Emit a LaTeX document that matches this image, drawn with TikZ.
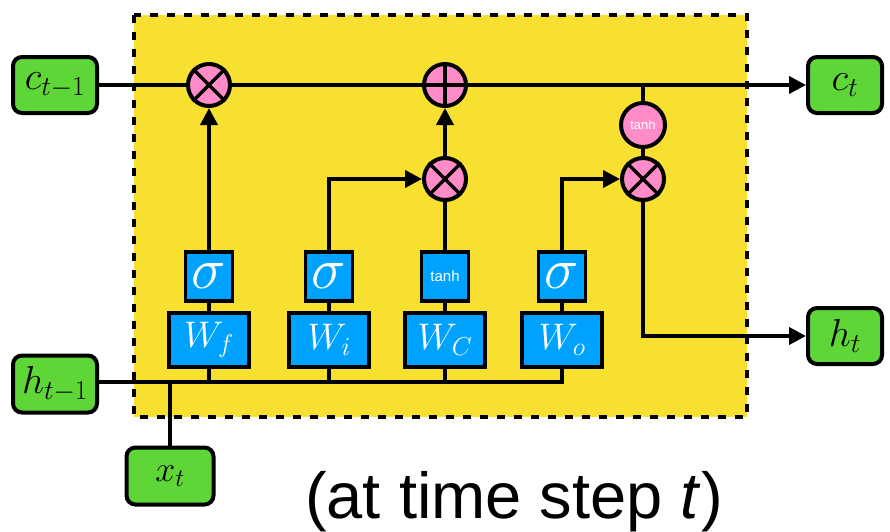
\RequirePackage{fix-cm}
\documentclass[tikz,border=0pt]{standalone}
\usepackage{fontspec}
\setsansfont{Liberation Sans}
\usetikzlibrary{arrows.meta}
\definecolor{cellyellow}{RGB}{248,224,48}
\definecolor{iogreen}{RGB}{94,214,56}
\definecolor{gateblue}{RGB}{0,162,255}
\definecolor{oppink}{RGB}{255,140,200}
\tikzset{
  iobox/.style={draw=black, line width=4pt, fill=iogreen, rounded corners=9pt, inner sep=0pt,
    font=\fontsize{39}{40}\selectfont},
  actbox/.style={draw=black, line width=3.5pt, fill=gateblue, inner sep=0pt,
    minimum width=47pt, minimum height=49pt, text=white},
  wbox/.style={draw=black, line width=3.5pt, fill=gateblue, inner sep=0pt,
    minimum width=80pt, minimum height=54pt, text=white, font=\fontsize{37}{38}\selectfont},
  opcirc/.style={circle, draw=black, line width=4pt, fill=oppink, inner sep=0pt, minimum size=42pt},
  wire/.style={line width=3.8pt, draw=black},
  arrowwire/.style={wire, -{Triangle[length=17pt,width=17pt]}},
  sigfont/.style={font=\fontsize{58}{58}\selectfont},
}
\begin{document}
\begin{tikzpicture}[x=1pt, y=-1pt]
\useasboundingbox (0,0) rectangle (890,531);
% cell background
\draw[fill=cellyellow, line width=4pt, dash pattern=on 8pt off 9pt] (134,15) rectangle (747,417);

% inputs/outputs
\node[iobox, minimum width=84pt, minimum height=56pt] (cprev) at (55,85) {$c_{t-1}$};
\node[iobox, minimum width=84pt, minimum height=57pt] (hprev) at (55,384) {$h_{t-1}$};
\node[iobox, minimum width=74pt, minimum height=56pt] (ct) at (845,85) {$c_t$};
\node[iobox, minimum width=74pt, minimum height=56pt] (ht) at (845,336) {$h_t$};
\node[iobox, minimum width=87pt, minimum height=57pt, font=\fontsize{36}{38}\selectfont] (xt) at (170,476) {$x_t$};

% operators
\node[opcirc] (fmul) at (209,85) {};
\node[opcirc] (add) at (445,85) {};
\node[opcirc] (imul) at (445,179) {};
\node[opcirc] (omul) at (643,179) {};
\node[opcirc, minimum size=44pt, text=white, font=\sffamily\fontsize{13}{14}\selectfont] (tanhc) at (643,125) {tanh};
\foreach \c in {fmul,imul,omul}{
  \draw[line width=3.5pt] (\c.north east) -- (\c.south west);
  \draw[line width=3.5pt] (\c.north west) -- (\c.south east);
}
\draw[line width=3.5pt] (add.north) -- (add.south);
\draw[line width=3.5pt] (add.west) -- (add.east);

% gate boxes
\node[actbox, sigfont] (sf) at (209,276.5) {$\sigma$};
\node[actbox, sigfont] (si) at (329,276.5) {$\sigma$};
\node[actbox, font=\sffamily\fontsize{15}{16}\selectfont] (tc) at (445,276.5) {tanh};
\node[actbox, sigfont] (so) at (562,276.5) {$\sigma$};
\node[wbox] (wf) at (209,340) {$W_f$};
\node[wbox] (wi) at (329,340) {$W_i$};
\node[wbox] (wc) at (445,340) {$W_C$};
\node[wbox] (wo) at (562,340) {$W_o$};

% bus
\coordinate (busend) at (562,382);
\draw[wire] (hprev.east |- 0,382) -- (busend) -- (wo.south);
\draw[wire] (xt.north) -- (xt.north |- busend);
\foreach \w in {wf,wi,wc}{ \draw[wire] (\w.south) -- (\w.south |- busend); }
\draw[wire] (wf.north) -- (sf.south);
\draw[wire] (wi.north) -- (si.south);
\draw[wire] (wc.north) -- (tc.south);
\draw[wire] (wo.north) -- (so.south);

% cell state line
\draw[wire] (cprev.east) -- (fmul.west);
\draw[wire] (fmul.east) -- (add.west);
\draw[arrowwire] (add.east) -- (ct.west);
\draw[wire] (tanhc.north |- add.east) -- (tanhc.north);
\draw[wire] (tanhc.south) -- (omul.north);

% gates
\draw[arrowwire] (sf.north) -- (fmul.south);
\draw[arrowwire] (si.north) |- (imul.west);
\draw[wire] (tc.north) -- (imul.south);
\draw[arrowwire] (imul.north) -- (add.south);
\draw[arrowwire] (so.north) |- (omul.west);
\draw[arrowwire] (omul.south) |- (ht.west);

% caption
\node[anchor=base west, inner sep=0pt, font=\sffamily\fontsize{65}{70}\selectfont] (cap) at (305,518) {(at time step \textit{t})};
\end{tikzpicture}
\end{document}
